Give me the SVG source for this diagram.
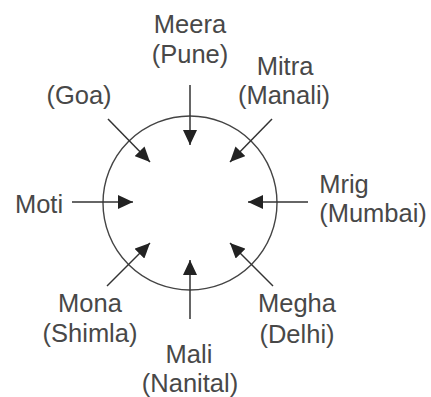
<svg xmlns="http://www.w3.org/2000/svg" width="431" height="397" viewBox="0 0 431 397">
<style>
.lbl{font-family:"Liberation Sans",Arial,sans-serif;font-size:25.5px;fill:#484848;text-anchor:middle}
.ln{stroke:#333;stroke-width:1.5;fill:none}
</style>
<defs>
<marker id="ah" markerUnits="userSpaceOnUse" markerWidth="16" markerHeight="14" refX="15" refY="7" orient="auto">
<path d="M0,0 L15,7 L0,14 Z" fill="#222"/>
</marker>
</defs>
<rect width="431" height="397" fill="#fff"/>
<g id="circle"><circle cx="190" cy="203" r="87" fill="none" stroke="#444" stroke-width="1.4"/></g>
<g id="connectors">
<line class="ln" x1="190" y1="85" x2="190" y2="145" marker-end="url(#ah)"/>
<line class="ln" x1="190" y1="319" x2="190" y2="260" marker-end="url(#ah)"/>
<line class="ln" x1="72" y1="202" x2="133" y2="202" marker-end="url(#ah)"/>
<line class="ln" x1="308" y1="202" x2="248" y2="202" marker-end="url(#ah)"/>
<line class="ln" x1="108" y1="119" x2="150" y2="162" marker-end="url(#ah)"/>
<line class="ln" x1="272" y1="119" x2="230" y2="162" marker-end="url(#ah)"/>
<line class="ln" x1="107" y1="286" x2="150" y2="243" marker-end="url(#ah)"/>
<line class="ln" x1="273" y1="286" x2="230" y2="243" marker-end="url(#ah)"/>
</g>
<g id="meera"><text class="lbl" x="190" y="33">Meera</text><text class="lbl" x="190" y="63">(Pune)</text></g>
<g id="mitra"><text class="lbl" x="285" y="75">Mitra</text><text class="lbl" x="284" y="104">(Manali)</text></g>
<g id="goa"><text class="lbl" x="79" y="104">(Goa)</text></g>
<g id="moti"><text class="lbl" x="39" y="213">Moti</text></g>
<g id="mrig"><text class="lbl" x="344" y="193">Mrig</text><text class="lbl" x="373" y="222">(Mumbai)</text></g>
<g id="mona"><text class="lbl" x="90" y="312">Mona</text><text class="lbl" x="90" y="342">(Shimla)</text></g>
<g id="megha"><text class="lbl" x="297" y="312">Megha</text><text class="lbl" x="297" y="343">(Delhi)</text></g>
<g id="mali"><text class="lbl" x="189" y="363">Mali</text><text class="lbl" x="190" y="392">(Nanital)</text></g>
</svg>
